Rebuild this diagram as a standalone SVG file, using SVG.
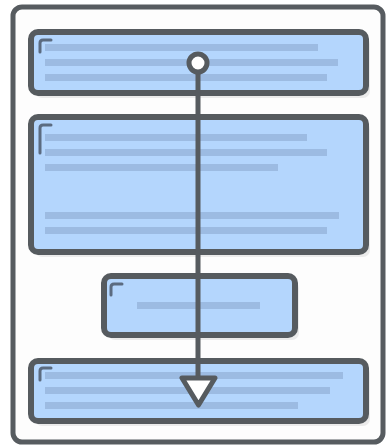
<svg xmlns="http://www.w3.org/2000/svg" width="388" height="448" viewBox="0 0 388 448">
<style>
.frame{fill:#fdfdfd;stroke:#575c60;stroke-width:5}
.box{fill:#b4d6fd;stroke:#565b5f;stroke-width:6}
.shadow{fill:#000;opacity:0.07}
.ln{fill:#9cbbe2}
.corner{fill:none;stroke:#5b6b80;stroke-width:3;stroke-linecap:round}
.conn{stroke:#565b5f;stroke-width:5;fill:none}
</style>
<rect class="frame" x="13" y="7" width="370" height="435" rx="9"/>
<g id="node1">
<rect class="shadow" x="35" y="37" width="335" height="61" rx="7"/>
<rect class="box" x="31" y="32" width="335" height="61" rx="7"/>
<path class="corner" d="M40 52 V43 Q40 40 43 40 H51"/>
<rect class="ln" x="45" y="44" width="273" height="7"/>
<rect class="ln" x="45" y="59" width="293" height="7"/>
<rect class="ln" x="45" y="74" width="282" height="7"/>
</g>
<g id="node2">
<rect class="shadow" x="35" y="122" width="335" height="135" rx="7"/>
<rect class="box" x="31" y="117" width="335" height="135" rx="7"/>
<path class="corner" d="M40 153 V128 Q40 125 43 125 H51"/>
<rect class="ln" x="45" y="134" width="262" height="7"/>
<rect class="ln" x="45" y="149" width="282" height="7"/>
<rect class="ln" x="45" y="164" width="233" height="7"/>
<rect class="ln" x="45" y="212" width="294" height="7"/>
<rect class="ln" x="45" y="227" width="282" height="7"/>
</g>
<g id="node3">
<rect class="shadow" x="108" y="281" width="191" height="59" rx="7"/>
<rect class="box" x="104" y="276" width="191" height="59" rx="7"/>
<path class="corner" d="M111 295 V287 Q111 284 114 284 H122"/>
<rect class="ln" x="137" y="302" width="123" height="7"/>
</g>
<g id="node4">
<rect class="shadow" x="35" y="366" width="335" height="60" rx="7"/>
<rect class="box" x="31" y="361" width="335" height="60" rx="7"/>
<path class="corner" d="M40 380 V371 Q40 368 43 368 H51"/>
<rect class="ln" x="45" y="372" width="298" height="7"/>
<rect class="ln" x="45" y="387" width="285" height="7"/>
<rect class="ln" x="45" y="402" width="253" height="7"/>
</g>
<g id="connectors">
<line class="conn" x1="198" y1="72" x2="198" y2="378"/>
<circle cx="198" cy="63" r="9" fill="#ffffff" stroke="#565b5f" stroke-width="5"/>
<polygon points="182,378 215,378 198.5,405" fill="#ffffff" stroke="#565b5f" stroke-width="5" stroke-linejoin="round"/>
</g>
</svg>
